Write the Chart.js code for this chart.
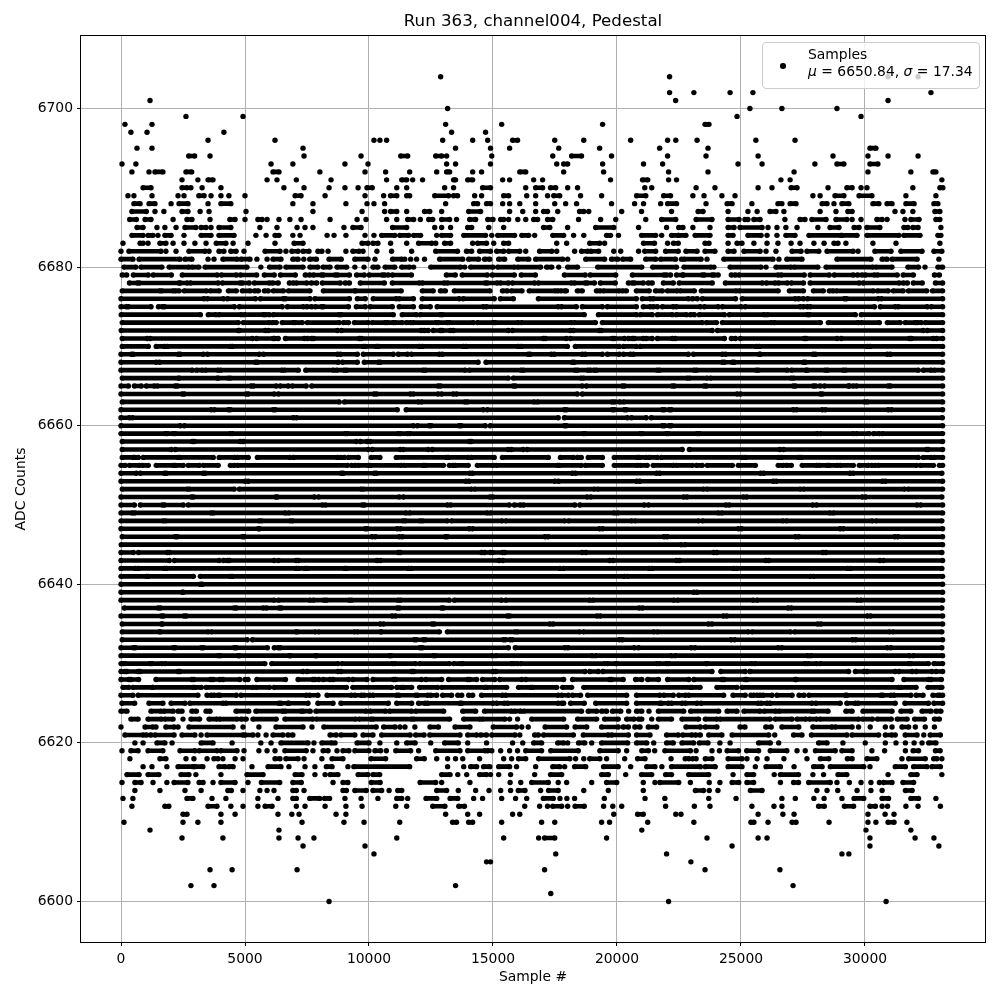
<!DOCTYPE html>
<html lang="en">
<head>
  <meta charset="UTF-8" />
  <title>Run 363, channel004, Pedestal</title>
  <script src="https://cdn.jsdelivr.net/npm/chart.js"></script>
  <style>
    html, body { margin: 0; padding: 0; background: #fff; }
    #wrap { position: relative; width: 1000px; height: 1000px; }
    #legend {
      position: absolute; left: 762px; top: 42px; width: 216px; height: 45px;
      background: rgba(255, 255, 255, 0.8); border: 1px solid #ccc; border-radius: 4px;
      font: 13.9px "DejaVu Sans", sans-serif; color: #000;
    }
    #legend .dot { position: absolute; left: 17px; top: 20px; width: 5.5px; height: 5.5px; border-radius: 50%; background: #000; }
    #legend .line { position: absolute; left: 45px; white-space: nowrap; line-height: 16px; }
  </style>
</head>
<body>
<div id="wrap">
  <canvas id="myChart" width="1000" height="1000"></canvas>
  <div id="legend">
    <span class="dot"></span>
    <span class="line" style="top:3px">Samples</span>
    <span class="line" style="top:20px"><i>μ</i> = 6650.84, <i>σ</i> = 17.34</span>
  </div>
</div>
<script>
const xTicks = [0, 5000, 10000, 15000, 20000, 25000, 30000];
const yTicks = [6600, 6620, 6640, 6660, 6680, 6700];

// upper tail: a number is one sample, [a, b] is a run of samples that touch
const topCounts = [6704,6702,6701,6700,6699,6698,6697,6696,6695,6694,6693,6692,6691,6690,6689,6688,6687,6686,6685,6684,6683,6682,6681,6680];
const topRows = [
  [12890,22120,30930,32140],
  [22120,23100,24560,25480,32660],
  [1170,22365,30930],
  [13170,25360,26650,28870],
  [2620,4920,24840,29840],
  [160,1250,13090,15350,19420,[23550,23710]],
  [400,1050,4150,13330,14700],
  [3510,6210,10200,10440,10710,12970,14180,14785,[15790,15990],17490,18660,20550,22040,22370,23230,25600,27180],
  [645,1250,7340,13490,14900,15670,17650,19300,21720,23670,[30200,30440]],
  [[2730,2970],3590,7380,9680,[11280,11560],[12690,12930],13130,14950,17410,[18170,18570],19780,22040,23590,25690,28710,30120,30930,32140],
  [40,600,6050,6930,9030,9960,13130,13490,14900,17570,[17850,18010],19420,21070,21840,24880,25850,27980,[28870,29150],[30200,30520]],
  [440,1130,[1370,1690],[2620,2850],[6130,6370],8020,9840,10670,11640,12730,[13130,13250],14180,14540,[16080,16320],17850,19460,22080,23670,27140,30120,31850,[32740,32860]],
  [2460,3100,[3510,3710],5890,6290,7070,8470,10710,[11320,11520],11760,12160,[13410,13490],[13980,14180],15390,15670,16640,17000,19740,[21030,21240],22080,22400,26610,26980,33100],
  [[890,1210],[2460,2660],2820,3270,4030,6570,7380,8390,9030,9560,[9920,10130],11120,11520,13050,13410,[14580,14900],16320,[16720,17000],[17320,17530],18010,18410,21120,21400,23190,23950,25690,26250,[27020,27260],28510,[29270,29480],29840,30080,31930,[33020,33140]],
  [280,520,1250,2300,2540,[3140,3350],3630,4030,4350,5000,[7020,7260],8230,9840,10590,[10870,11120],[11520,11640],[12650,13210],[13410,13570],14260,14540,[15430,15630],16360,16720,17200,[17450,17690],18530,19380,[20790,21160],[21880,22160],23060,23510,24230,24760,27900,28190,[28790,29150],[29760,30280],31650,32860],
  [[520,770],[1130,1370],2020,[2340,2700],3510,[4030,4430],6930,7740,9070,9920,10200,10630,13090,[14220,14380],[14740,14900],15390,15670,16080,16720,17490,17930,18370,19780,20710,21070,21760,[22040,22400],23590,[24440,24640],25440,[26490,26650],[26980,27220],[28270,28470],28750,[29070,29350],[30320,30560],[30890,31090],[31650,31980],[32780,32940]],
  [[440,1020],1370,1730,[2460,2700],3190,3550,5040,7740,9720,10630,[10870,11120],11520,[12240,12450],12930,[14020,14500],15670,16200,16720,[17040,17200],17610,[18490,18660],18860,20190,20990,22200,[23270,23470],24480,25280,25650,[26170,26410],26730,28190,28830,[29310,29480],31210,31530,31930,[32820,33020]],
  [[350,620],[970,1210],2100,[2660,2860],3590,[4390,4600],5000,[5520,5690],5890,6370,6810,7260,8430,9520,9880,10710,11120,[11560,11800],12070,[12410,12570],[12930,13250],13530,[14060,14300],[14790,15000],15310,15430,15630,16000,16320,[16640,16800],[17200,17410],18450,19340,19950,21160,[21800,22370],[23190,23830],[24480,24920],[25160,25280],[25520,25770],26770,[27380,27580],[27860,28430],[28830,29270],29480,29840,[30480,30690],30890,31610,[31850,32180],[32860,33020]],
  [[645,890],1450,1770,2220,[2580,3020],[3230,3430],3630,[3950,4430],5600,6290,7100,7420,7740,8990,[9350,9680],[10950,11520],12650,12930,13290,[13980,14140],14830,15430,[17040,17290],18010,[19140,19870],20870,22000,[22490,22660],23060,23750,[24480,24720],[24960,25850],26090,26450,26810,27260,28100,[28590,28950],[29560,29760],[30080,30600],[31570,31730],[31930,32140],33060],
  [[440,890],[1090,1290],1490,[1770,2020],2540,[3230,3630],[3950,4560],5440,5850,[6210,6370],6930,7220,8310,8590,9070,9840,10200,[10510,11040],[11240,11600],[11800,12080],12730,[12930,13290],[13820,14700],14950,[15190,15870],[16160,16440],16680,[17410,17850],18250,18660,[19580,19740],20060,[20990,21560],21800,[22200,22470],[22490,22780],[23150,23750],[24480,24680],[25280,25810],26050,26450,[26810,27180],[27740,29030],[29070,29680],[30080,31370],[31570,32220],[32940,33060]],
  [80,770,890,1090,[1570,1810],2100,2540,2980,3430,[3840,4230],4520,5120,6210,[6980,7340],[9720,9960],[10160,10360],10870,11520,[12000,12530],12690,[13050,13290],14180,[14380,14740],15030,[15430,15630],17570,17970,[18900,19300],19500,[21070,21510],22040,[22280,22470],[23550,23710],24480,[24840,25040],25520,26050,26490,27020,27380,27940,28350,[28750,28910],29230,30320,31250,33020],
  [0,[320,1610],1810,2220,[2740,3390],3550,[3950,4150],[4430,4640],4960,[5810,6410],6650,[6890,7140],[7340,7580],[7940,8100],8350,9070,[9350,9600],9760,10320,10910,11720,[12690,13570],[13930,14140],[14460,14900],[15150,15430],[15630,16080],16320,[16880,17370],17570,18290,[18570,18820],[18950,19260],19870,20150,20870,[21120,21560],[21960,22470],[22780,23230],[23550,23950],[24480,24720],[25120,25770],26010,26410,[27060,27420],[27660,28140],[28470,29520],29720,[30400,31050],[31450,32300],[32780,33100]],
  [[0,480],[730,2380],[2580,2860],3510,3750,[4110,4680],[4840,5200],5480,5890,[6130,6450],[6930,7140],7370,[7610,7880],[8390,8880],[9430,9960],10240,[10950,11320],11440,11680,11920,12240,[12850,13780],[14020,14420],[14660,14870],[15230,15470],[16000,16440],[16720,17810],18010,[18740,19500],[19780,20030],[20230,20550],[21160,21560],[21760,22360],22600,[22700,23390],23630,[24310,26290],26530,[26850,27460],[28870,30240],[30690,30890],[31090,32100],32980],
  [[120,600],[810,1650],[1940,2740],[2860,3140],[3390,5080],5640,[5990,6410],[6650,7340],[7620,7940],[8150,8430],[8710,9100],9430,9800,[10160,10360],[10650,11040],[11320,11640],11800,[12490,13700],13860,[14100,15000],[15190,15870],[16000,16920],[17160,17370],17650,[18010,18410],[19220,21000],[21440,22400],[22700,23790],23910,[24560,25810],26010,[26410,27020],[27140,28100],[28430,30320],[30440,31090],[31730,32160],32420,[32940,33130]]
];

// dense band, count by count, flat start,end pairs of touching samples
const bandCounts = [6679,6678,6677,6676,6675,6674,6673,6672,6671,6670,6669,6668,6667,6666,6665,6664,6663,6662,6661,6660,6659,6658,6657,6656,6655,6654,6653,6652,6651,6650,6649,6648,6647,6646,6645,6644,6643,6642,6641,6640,6639,6638,6637,6636,6635,6634,6633,6632,6631];
const bandRows = [
  [50,230,500,1100,1300,2030,2470,3880,4050,4650,4810,5470,5780,6180,6430,7030,7430,7620,7760,8090,8160,8640,8730,9210,9500,9810,10010,10540,10620,10780,10940,11710,13120,13480,13760,14770,14970,15860,16140,16710,17880,18720,18920,19950,20620,21900,21990,22160,22400,22640,22680,23440,23520,23840,23920,24080,24610,24780,24920,26500,26620,27550,27790,28560,28760,29530,29690,29890,30010,30380,30500,31300,31540,31950,32800,33000],
  [340,660,740,2340,2390,2670,2800,3920,4090,4810,4890,5170,5380,5980,6100,6340,6790,6950,7070,7490,7670,7890,8120,8840,9040,9210,9650,10620,10940,12030,12150,13040,13160,14690,14770,15170,15300,15620,15780,16680,16830,18160,18280,18720,18800,19090,19330,19930,20460,20620,20700,21060,21260,21420,21870,22270,22510,23840,24370,25860,26020,26380,26510,26870,27030,27520,27790,29770,29930,31380,31540,31710,31950,32310,32840,33130],
  [50,1570,1640,2110,2190,2350,2550,3450,3600,3960,4330,4650,4890,5210,5380,5540,5780,5940,6140,6550,6750,7620,8160,9430,9450,11300,12150,12590,12880,13080,13440,14880,15380,15580,15740,16170,16460,17510,17600,17760,17880,17960,18400,18600,19170,19330,19450,20090,20210,20380,20780,21300,21550,21830,22030,22430,22550,23120,23400,24810,24920,26500,26950,27520,27920,28320,28560,28720,28840,30340,30500,30940,31140,31540,31750,32490,32720,33130],
  [0,3350,3480,4130,4290,5420,5620,6550,6630,7620,7820,9210,9530,9850,10170,11100,11220,11790,12150,13640,13800,15050,15300,15820,16830,20780,21020,21340,21460,22880,23040,23240,23440,24780,25050,27190,27320,27520,27680,29170,29250,30540,30660,33130],
  [0,220,300,1210,1510,1670,1750,4570,4770,6500,6710,7350,7490,7690,7840,8090,8160,9170,9490,9850,10050,10940,11220,11790,12110,12470,12750,14610,14730,17630,17760,18360,18600,19410,19610,20780,21060,21340,21460,21630,21830,22270,22390,23360,23520,24080,24250,25010,25170,27390,27510,27680,27790,30380,30620,31220,31340,32510,32670,33130],
  [10,3200,3520,3830,3960,4850,4970,5740,5820,5980,6140,8800,8880,10980,11340,11910,12070,12880,12960,18680,19250,20780,20940,21420,21630,22230,22390,22800,22960,23120,23320,24330,24530,25940,26060,27680,27760,29610,29850,33130],
  [50,4730,4930,5980,6100,6260,6500,6950,7030,7310,7510,8800,8970,9170,9410,9970,10130,10660,10740,10980,11060,11340,11500,11670,11780,12710,12790,13160,13240,14210,14370,15010,15090,16020,16140,18160,18280,19130,19410,23440,23600,24010,24250,26230,26340,28200,28520,29730,29850,30580,30900,31420,31620,32030,32110,32270,32430,33130],
  [10,4730,4770,5820,5940,8730,8890,12110,12230,12390,12590,12880,12960,13280,13400,15620,15780,18120,18240,19290,19370,23840,24050,32350,32510,33130],
  [50,1060,1180,5300,5460,6140,6200,6340,6630,7390,7510,7690,7760,9610,9690,17030,17110,17960,18120,19810,19890,20300,20460,20620,20700,21060,21180,21420,21630,22230,22350,24330,24610,24780,24970,27550,27630,28880,29040,31790,31870,32750,32880,33130],
  [50,1100,1420,1750,1870,4410,4490,9770,9850,10300,10380,12030,12150,13800,13920,16020,16140,18000,18320,20090,20260,20780,20940,25620,25740,30090,30210,33130],
  [0,420,500,2310,2390,3320,3480,5580,5740,8730,8840,9530,9770,10980,11180,11550,11710,12840,12960,16420,16500,17350,17470,18600,18720,19410,19610,20090,20260,20540,20660,22880,23080,24250,24370,25740,25780,27910,28000,30900,31020,33130],
  [0,1420,1550,5420,5500,8760,8930,9530,9810,10380,10460,14400,14720,18200,18280,24250,24330,24650,24730,27520,27600,33130],
  [0,2880,3040,3280,3400,3920,4010,6500,6590,7150,7450,8570,8690,9010,9090,12190,12270,13880,14040,16140,16220,18320,18400,18840,18920,19090,19170,21630,21710,23120,23200,25630,25700,26870,27030,27630,27670,28400,28480,29130,29210,32150,32350,32670,32790,33130],
  [50,2310,2350,3880,3920,4330,4410,15620,15820,18560,18640,22840,22920,23640,23760,27030,27110,33130],
  [0,300,540,820,1020,1340,1460,2190,2270,5250,5340,6260,6420,6750,6910,7470,7690,12790,12880,15820,15900,18600,18760,20220,20300,22230,22310,23520,23600,27110,27190,27920,28000,28200,28360,29330,29370,29530,29650,30940,31020,33130],
  [0,2470,2550,5050,5130,6180,6340,10210,10300,11670,11780,12790,12920,13400,13520,18400,18600,24850,24970,28200,28280,33130],
  [50,8800,9010,12000,12110,13880,13960,16670,16790,19810,19890,20130,20260,30000,30090,33130],
  [0,3640,3760,4330,4410,6140,6220,11140,11500,14610,14770,17880,17960,19810,19890,20300,20380,21830,21910,22110,22190,27110,27230,28280,28400,30940,31060,33130],
  [0,340,460,6950,7070,17630,17880,20420,20580,21180,21380,33120],
  [0,2390,2550,11790,11950,12430,12510,13640,13720,14690,14890,17880,17960,21830,21910,22110,22190,33130],
  [0,1790,1870,2110,2190,4410,4490,9050,9130,11180,11260,11550,11640,18640,18720,20940,21020,21990,22070,23240,23320,28080,28200,29530,29650,30170,30340,30580,30700,33130],
  [50,2880,2960,4810,4930,9490,9650,9930,10050,14050,14130,33130],
  [50,2030,2190,9970,10130,11260,11380,12390,12550,15620,15740,16220,16380,22630,22920,26570,26710,32490,32550,33130],
  [50,500,540,700,900,2310,2390,3720,3960,4570,4690,5130,5500,6810,6950,8730,8840,9010,9170,9570,10090,10440,11100,13130,13200,14000,14130,15050,15380,17230,17720,18240,18400,18560,18840,19410,19890,20820,20900,21180,21300,21630,21790,25050,25170,26500,26620,27330,27430,32150,32350,32670,32790,33130],
  [0,170,340,740,860,1100,1420,2110,2190,2510,2710,3160,3320,3920,4410,4570,4690,9130,9290,9450,9570,9970,10050,11300,11420,12190,12270,13000,13240,13400,13480,14000,14370,15010,15130,17600,17680,18560,18720,19410,19890,20820,20940,21220,21460,22270,22390,23040,23200,23440,23640,24650,24890,25580,26500,26710,26830,27030,27470,28050,28160,28480,28560,28880,29000,29530,29770,30130,30260,30420,30540,32080,32230,32760,33000,33130],
  [0,620,780,1750,1830,3320,3400,8880,8960,10220,10300,14070,14180,18200,18320,21600,21720,25800,25920,29400,29520,33100],
  [0,5010,5130,13910,14030,17500,17640,20800,20920,26300,26420,30700,30820,33130],
  [50,2680,2760,4570,4770,9690,9770,14140,14260,19100,19220,23500,23620,27400,27520,31600,31740,33130],
  [0,2840,2920,6240,6300,7800,7960,11220,11380,14880,14990,18800,18940,22700,22820,25100,25220,29900,30020,33100],
  [0,540,780,1670,1750,2510,2710,8120,8240,9730,9810,13170,13290,15660,15860,16110,16220,18300,18500,21100,21260,24400,24520,27900,28040,32100,32240,33130],
  [0,460,540,3640,3720,6630,6750,11500,11630,14780,14900,19900,20020,24100,24220,28600,28720,33130],
  [0,1710,1790,5580,5660,6830,6910,11380,11460,12070,12150,13160,13320,15370,15510,17900,18040,20600,20720,23300,23440,26700,26820,30300,30440,33100],
  [0,5540,5580,9850,9930,11140,11260,14040,14170,19300,19420,24900,25020,29000,29120,33130],
  [50,2190,2270,4890,4970,10130,10250,11220,11340,13080,13160,17100,17220,21900,22020,27200,27320,31200,31320,33130],
  [10,22600,22740,33130],
  [0,500,700,1870,1950,11190,11260,14540,14660,14900,14980,15390,15470,18600,18740,23900,24020,28300,28420,33100],
  [0,1950,2150,3960,4130,4290,4370,6180,6340,7070,7150,10330,10460,15250,15390,19700,19840,22400,22520,26000,26120,30600,30740,33130],
  [0,580,700,1750,1830,7070,7150,7430,7510,9030,9100,11590,11700,17700,17840,21300,21420,24700,24820,29300,29420,33100],
  [0,1020,1100,2920,3200,4410,4490,20300,20420,27800,27920,33130],
  [0,3200,3280,33130],
  [0,2470,2510,23100,23220,33130],
  [0,6180,6340,7630,7750,8200,8280,9210,9290,11180,11260,13240,13440,15350,15510,18900,19020,22300,22440,25500,25640,29700,29820,33130],
  [130,1500,1590,4570,4650,5740,5860,6380,6460,11140,11220,12920,13000,20900,21020,26900,27020,33100],
  [0,1630,1710,2550,2630,10940,11060,15580,15670,19200,19320,24300,24420,30100,30220,33130],
  [50,1630,1670,10460,10580,12550,12630,17300,17420,23700,23820,28100,28220,33130],
  [50,1550,1590,3520,3640,7060,7110,7840,7960,9430,9530,10460,10500,12840,13160,15900,15980,18500,18640,21500,21620,25300,25440,27000,27160,31000,31120,33100],
  [50,5090,5300,11830,11910,12190,12270,15420,15500,15690,15780,20100,20220,24600,24740,29500,29620,33130],
  [0,500,580,2110,2190,3240,3320,4570,4650,5900,6180,6340,6420,12060,12150,15620,15900,17900,18020,20700,20860,23000,23140,26500,26640,30900,31040,33100],
  [0,3920,4010,4730,4770,6790,6830,7840,7880,10820,10900,12590,12670,14970,15110,19000,19140,22200,22340,27700,27820,31800,31940,33130]
];

// lower tail, same notation as the upper one
const lowCounts = [6630,6629,6628,6627,6626,6625,6624,6623,6622,6621,6620,6619,6618,6617,6616,6615,6614,6613,6612,6611,6610,6609,6608,6607,6606,6605,6604,6602,6601,6600];
const lowRows = [
  [[0,80],[160,1170],[1250,1650],[1770,5800],[6080,8750],[8910,10940],[11040,11880],[12040,13250],[13420,13700],[13780,15750],[15830,15990],[16120,19520],[19620,19950],[19990,21600],[21700,22000],[22080,23590],[23640,25440],[25560,27590],[27700,28060],[28190,31760],[31850,32560],[32780,33130]],
  [[0,160],[240,690],[770,2300],[2380,7340],[7500,8750],[8870,11720],[11800,15000],[15110,18710],[18900,19250],[19430,23830],[24190,25170],[25360,29340],[29610,29960],[30080,31220],[31370,31900],[32060,32700],[32860,33130]],
  [[0,320],[400,710],[1410,2860],[2940,3620],[3710,3990],[4110,4790],[5000,5120],[5480,6630],[7140,7740],[7820,7980],[8150,8430],[8550,9180],[9350,9920],[10160,10990],[11070,12120],[12290,12930],[13210,13980],[14060,14340],[14580,15070],[15270,16160],[16320,17850],[18210,19700],[19780,20250],[20750,21000],[21240,21670],[22040,22900],[23100,24230],[24310,25170],[25240,27190],[27220,31090],[31570,32560],[32660,33080]],
  [[80,320],[480,1260],[1290,2900],[2980,3240],[3430,5320],[5440,5990],[6170,9090],[9350,10910],[11120,11320],[11400,11720],[12040,12770],[12930,14680],[14740,15550],[16030,16520],[16600,17570],[17810,18170],[18660,22970],[23030,23350],[24030,24840],[25040,31360],[31450,32060],[32540,33040],33100],
  [[0,480],[690,3100],[3470,3640],[3750,3910],[3990,4650],[4840,7470],[7610,7940],[8310,9290],[9430,9690],[9800,10030],[10160,11120],[11210,11880],[11960,12370],[12490,12730],[12970,13330],[13580,13740],[14020,14180],[14540,15380],[15510,17630],[17770,18040],[18210,18530],[18820,20390],[20790,21730],[21890,22270],[22490,22760],[22890,24300],[24680,25170],[25400,25520],[25650,25770],[25890,26250],[26450,27060],[27340,27540],[27740,29210],[29270,30640],[30720,31050],[31170,31850],[32060,32340],[32740,32940],[33020,33130]],
  [[40,550],[1130,1690],[2020,2580],[2780,4110],[4230,6370],[6450,6730],[6770,7540],[7940,8550],[8870,10780],[11120,11720],[12000,12260],[12370,13670],[13740,15000],[15150,15460],[15590,17630],[17770,17850],[18130,18680],[19140,20390],[20790,21730],[21800,22070],[22200,22630],[22760,23230],[23390,25690],[25810,26050],[26170,27860],[28020,29000],[29270,29610],[29720,31220],[31610,32560],[32780,33130]],
  [[0,240],[1210,1610],[1730,2100],[2300,2460],[2860,3040],[3430,3590],[4640,5150],[5440,6530],[6610,7270],[7340,7630],[7860,9890],[10040,10670],[10830,11720],[11880,13010],[13780,14300],[14660,15750],[15870,16120],[16240,18570],[18840,19180],[19380,19580],[19820,20150],20470,[20790,21000],21290,[21670,22690],[22970,24100],[24440,24840],[25120,25770],[25930,26410],[26530,27860],[27940,28510],[29230,29480],[29920,31090],[31450,31850],[32300,32660],[32860,33060]],
  [[400,690],[1090,1630],[1770,2100],2500,[2820,3170],[3550,3870],[3980,4680],[4840,5050],[5320,6260],[6610,7740],[7880,9460],[9600,10090],[10160,11720],[11800,13250],[13820,14480],[14580,15480],15670,15990,[16560,17850],[18410,19180],[19500,20050],[20390,20690],[20870,21000],21400,[21670,22200],[22620,23290],[23560,24030],[24150,26180],[26380,27060],[27260,27620],[27760,28060],[28190,29750],[29900,30300],[30500,31060],[31300,31700],[32000,32400],[32800,33000]],
  [0,[970,1290],1410,[1810,2140],2300,[2740,4520],4920,5560,[6250,7340],7700,[8180,10290],[10590,11050],11250,11450,11850,[12460,12800],[13470,14070],[15010,15950],16160,16420,[17100,17970],[18310,18780],[19380,20050],[20250,20460],[20720,20930],[21260,21600],[22780,23360],[23560,24030],[24960,25160],[26000,26220],[26650,27330],[27900,28670],[28800,29480],29740,30210,30820,31090,[31490,31760],32030,32430,32800],
  [[160,890],[1010,1210],[1370,2140],[2460,2980],3230,[3470,4920],[5000,5320],5520,5850,[6130,6530],[6730,6930],[8430,8680],[8870,9430],[9760,10160],[10510,11660],[11880,12220],[12450,13670],[13980,14340],[14500,14740],[14950,15890],16080,[16680,16830],[17040,18240],[18640,19650],[19780,20460],[20790,21330],[22000,22470],[22650,23020],[23160,23360],[23700,24230],[24640,26120],26360,[27120,27460],[27840,29270],[29480,30550],[30820,31090],31220,[31620,32100],32370,[32630,33040]],
  [560,890,[1450,1770],2060,[3230,3710],4480,5640,6050,[6450,7540],7780,[8100,8510],8630,[9520,10000],10440,11120,[11520,11860],12490,[13050,13600],13980,14740,15790,16200,[16640,16960],[17610,17850],18010,[18450,18700],18980,[19380,20430],[20790,21200],21480,[22000,22270],[22620,23090],[23320,23670],24150,24560,[25710,26180],26520,[28130,28470],29110,30010,30820,31250,31630,31980,32300,[32570,32860]],
  [40,[400,690],[1090,1690],[2380,2980],[3150,3870],[4030,4680],4960,5560,5890,6210,[6610,7470],7740,[8150,8350],8710,[8950,9190],[9430,10000],[10240,10470],10700,[11080,11680],12000,[12690,13670],[13980,14680],[14790,14950],15310,15670,15990,[16320,16960],[17330,18440],[19310,20050],20390,[21000,21270],21520,[21930,22960],23190,23830,24130,[24440,24900],[25230,25710],[26180,26850],27260,27590,[28000,28800],[29070,29480],30280,30790,31630,[31940,32160],[32840,33030]],
  [360,[1570,1810],2620,2940,3470,[3750,3910],4110,4600,4920,[6210,6410],[6650,7140],7380,8100,[8510,8950],[10080,10670],[11920,12230],12730,13170,13490,13780,14460,15430,15750,[16030,16320],[16840,18100],18330,18660,[18900,19310],19580,20310,[20830,21130],22180,[22750,22900],[23050,23190],[23560,23830],[24480,25040],25240,25650,26050,26730,27660,[28200,28540],[29290,29480],[30080,30480],31490,[31760,32430],[32770,32900],33100],
  [890,1250,1850,[2300,2900],[2980,3300],[3950,4190],[4350,4520],5280,[5930,6450],6770,7420,7820,[8280,8510],9150,[9390,11640],13170,13820,[14100,14340],[14620,14870],[15230,15670],15950,16720,[17410,17690],17890,[18290,18740],[19460,20050],20550,[21200,21530],21810,[22200,23360],[23560,23960],[24480,25040],25580,[26010,26590],27140,[27930,28270],[28600,29950],30200,[31220,31630],[31960,32500],[32700,33040]],
  [[240,730],[1090,1530],[2420,2740],3020,4030,[5080,5730],[7020,7300],7820,8230,[8430,8750],[9560,9960],[10160,10430],[12930,13270],13580,13940,[14460,14740],14900,15230,15710,16680,[17320,17770],[19380,19650],20350,[20990,21400],[21960,22200],[22890,23700],24680,[25240,25510],26340,[26590,27320],27900,28330,[28910,29270],30930,[31850,32100],33100],
  [40,[560,810],1290,1850,[2140,2700],[3150,3310],3710,[4030,4600],5120,[5660,6400],[6930,7270],8550,[8950,9150],[10090,10450],[12060,12690],12930,14070,15690,16120,[16560,17230],17630,17970,18980,[19580,19990],21060,21530,[21730,22490],22960,23720,24150,[24640,24910],[25240,25510],26590,[27120,27320],[27730,28600],28870,29370,29840,30240,30580,[30750,31090],[31530,31960]],
  [560,1570,2580,3230,[4310,4450],4920,5600,5890,6170,[6930,7070],7380,[8950,9090],[9430,9890],[10160,10510],10810,[11160,11320],[12730,13130],13600,14300,14840,15310,15710,[16020,16290],16920,[17240,17630],18660,19650,21060,[23160,23490],23720,24070,[25380,25850],28060,28470,28900,29680,30240,30690,[31630,31900]],
  [80,480,[2660,2900],3670,4230,5520,6330,[6930,7070],[7610,8010],[8210,8410],9030,9680,10360,[11120,11320],11560,[12300,12730],[13270,13580],14220,14580,15350,15910,16360,[17030,17430],17700,17980,18290,19490,21130,21930,23700,24800,26650,27190,27940,28350,29070,[29560,29950],[30690,30950],[31850,32160],32860],
  [440,[1770,1930],[3510,3870],4430,4920,5520,[5810,6090],7070,7420,8230,9070,9720,11080,11520,[12570,13060],[13620,13850],16280,16880,17200,[17410,17770],18010,[18310,18680],19460,19830,20190,21960,23120,23750,25440,26330,26650,[28130,28360],[29170,29540],[30200,30420],30690,30910,31650,32140,33040],
  [[2500,2660],4030,4600,6330,6890,7180,8670,9070,13090,13980,14460,15790,16080,19870,[20830,21060],22370,22580,25690,26690,27140,30120,30810,31170],
  [120,2500,3100,4030,7300,8990,9800,11240,[13370,13530],[14020,14180],15350,16960,17490,19380,19700,21240,23100,[25400,25520],26090,[27060,27220],28550,30120,30440,[30930,31170],31690],
  [1170,6370,21000,30040,31850],
  [2460,4110,6370,7140,7780,11120,15430,16840,[17080,17490],19580,23630,25690,26050,30200,32020,32780],
  [7340,9840,24640,30200,32980],
  [10200,17530,22000,29070,29350],
  [14740,14900,22980],
  [3590,4480,7100,17080,23550,26570],
  [2820,3750,13490,27100],
  [17330],
  [8390,22080,30850]
];

// flatten rows to points; a null y breaks the line so runs do not join up
function addRow(points, count, samples) {
  points.push({ x: samples[0], y: count });
  if (samples[1] !== undefined) points.push({ x: samples[1], y: count });
  points.push({ x: samples[0], y: null });
}

const points = [];
topCounts.forEach((c, i) => topRows[i].forEach(s => addRow(points, c, Array.isArray(s) ? s : [s])));
bandCounts.forEach((c, i) => {
  for (let k = 0; k < bandRows[i].length; k += 2) addRow(points, c, [bandRows[i][k], bandRows[i][k + 1]]);
});
lowCounts.forEach((c, i) => lowRows[i].forEach(s => addRow(points, c, Array.isArray(s) ? s : [s])));

const frame = {
  id: 'frame',
  afterDraw(chart) {
    const { ctx, chartArea: a } = chart;
    ctx.save();
    ctx.strokeStyle = '#000';
    ctx.lineWidth = 1;
    ctx.strokeRect(a.left - 0.5, a.top - 0.5, a.right - a.left + 1, a.bottom - a.top + 1);
    ctx.restore();
  }
};

const font = { family: '"DejaVu Sans"', size: 13.9 };
const ctx = document.getElementById('myChart');
new Chart(ctx, {
  type: 'scatter',
  data: {
    datasets: [{
      label: 'Samples',
      data: points,
      showLine: true,
      spanGaps: false,
      borderColor: '#000',
      borderWidth: 4.6,
      backgroundColor: '#000',
      pointRadius: 2.7,
      pointBorderWidth: 0
    }]
  },
  options: {
    responsive: false,
    animation: false,
    events: [],
    layout: { padding: { right: 15 } },
    plugins: {
      legend: { display: false },
      tooltip: { enabled: false },
      title: {
        display: true,
        fullSize: false,
        text: 'Run 363, channel004, Pedestal',
        color: '#000',
        font: { family: '"DejaVu Sans"', size: 16.67, weight: 'normal' },
        padding: { top: 12, bottom: 4 }
      }
    },
    scales: {
      x: {
        type: 'linear',
        min: -1613,
        max: 34839,
        afterFit(s) { s.height = 58; },
        afterBuildTicks(s) { s.ticks = xTicks.map(value => ({ value })); },
        ticks: { color: '#000', font, maxRotation: 0, autoSkip: false, padding: 5, callback: v => String(v) },
        grid: { color: '#b0b0b0', lineWidth: 1, tickColor: '#000', tickLength: 4 },
        border: { display: false },
        title: { display: true, text: 'Sample #', color: '#000', font, padding: { top: 4, bottom: 14 } }
      },
      y: {
        min: 6594.89,
        max: 6709.14,
        afterFit(s) { s.width = 81; },
        afterBuildTicks(s) { s.ticks = yTicks.map(value => ({ value })); },
        ticks: { color: '#000', font, autoSkip: false, padding: 4, callback: v => String(v) },
        grid: { color: '#b0b0b0', lineWidth: 1, tickColor: '#000', tickLength: 4 },
        border: { display: false },
        title: { display: true, text: 'ADC Counts', color: '#000', font, padding: { top: 13, bottom: 0 } }
      }
    }
  },
  plugins: [frame]
});
</script>
</body>
</html>
